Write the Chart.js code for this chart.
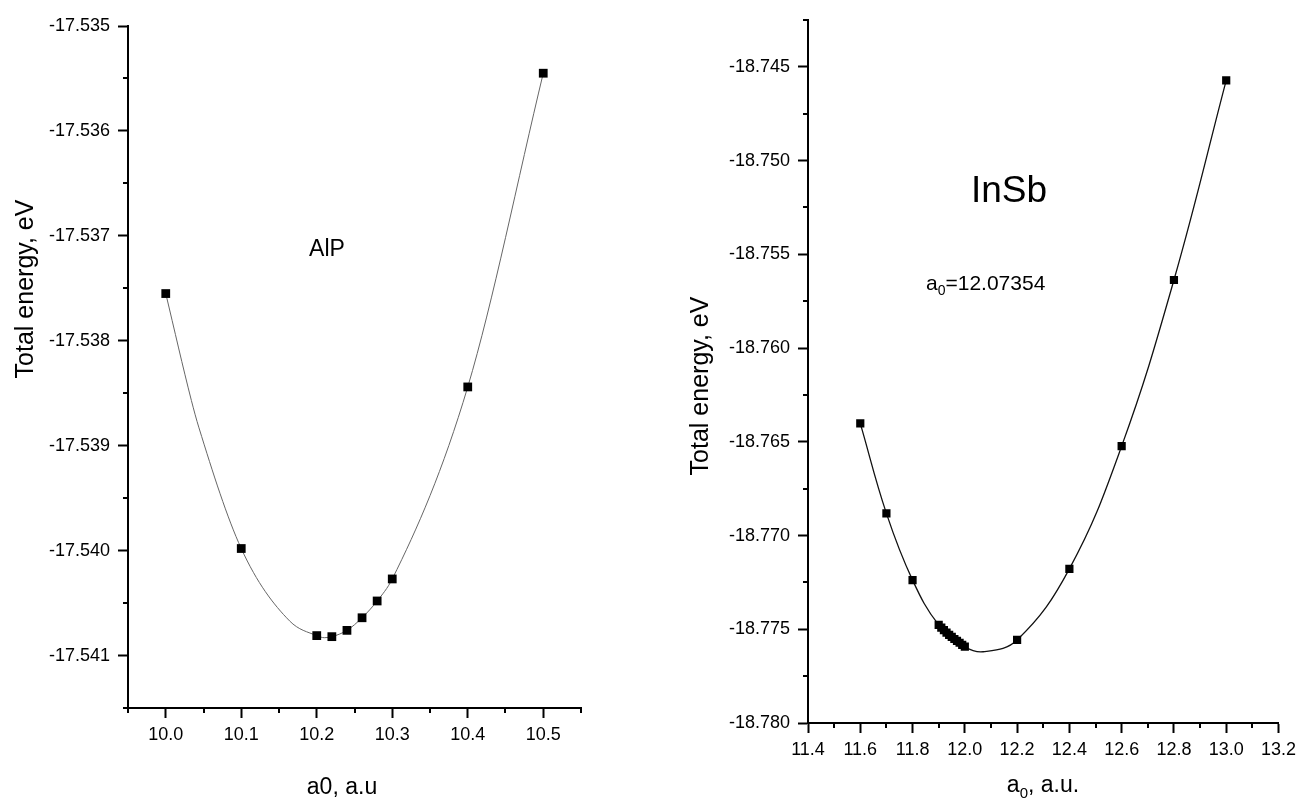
<!DOCTYPE html>
<html><head><meta charset="utf-8">
<script src="https://cdn.jsdelivr.net/npm/chart.js@4.4.1/dist/chart.umd.min.js"></script>
<style>
html,body{margin:0;padding:0;background:#fff;width:1302px;height:799px;overflow:hidden}
canvas{position:absolute;top:0}
#c1{left:0}
#c2{left:650px}
</style></head><body>
<canvas id="c1" width="650" height="799"></canvas>
<canvas id="c2" width="652" height="799"></canvas>
<script>
// ---- AlP data ----
const alpA0 = [10.0, 10.1, 10.2, 10.22, 10.24, 10.26, 10.28, 10.3, 10.4, 10.5];
const alpE  = [-17.53755, -17.53998, -17.54081, -17.54082, -17.54076, -17.54064, -17.54048, -17.54027, -17.53844, -17.53545];
// fitted curve
const alpFitA0 = [10.0, 10.034, 10.044, 10.1, 10.164, 10.2, 10.21, 10.22, 10.24, 10.26, 10.28, 10.3, 10.4, 10.5];
const alpFitE  = [-17.53755, -17.53857, -17.53883, -17.53998, -17.54067, -17.54081, -17.54083, -17.54082, -17.54076, -17.54064, -17.54048, -17.54027, -17.53844, -17.53545];
const alpXTicks = [10.0, 10.1, 10.2, 10.3, 10.4, 10.5];
const alpYTicks = [-17.541, -17.540, -17.539, -17.538, -17.537, -17.536, -17.535];

// ---- InSb data ----
const insbA0 = [11.6, 11.7, 11.8, 11.90, 11.91, 11.92, 11.93, 11.94, 11.95, 11.96, 11.97, 11.98, 11.99, 12.0, 12.2, 12.4, 12.6, 12.8, 13.0];
const insbE  = [-18.76402, -18.76882, -18.77238, -18.77477, -18.77491, -18.77505, -18.77518, -18.77530, -18.77541, -18.77552, -18.77562, -18.77572, -18.77583, -18.77593, -18.77557, -18.77178, -18.76523, -18.75637, -18.74572];
// fitted curve
const insbFitA0 = [11.6, 11.7, 11.8, 11.9, 12.0, 12.07, 12.2, 12.4, 12.6, 12.8, 13.0];
const insbFitE  = [-18.76402, -18.76882, -18.77238, -18.77477, -18.77593, -18.77620, -18.77557, -18.77178, -18.76523, -18.75637, -18.74572];
const insbXTicks = [11.4, 11.6, 11.8, 12.0, 12.2, 12.4, 12.6, 12.8, 13.0, 13.2];
const insbYTicks = [-18.780, -18.775, -18.770, -18.765, -18.760, -18.755, -18.750, -18.745];

const FAM = "'Liberation Sans', Arial, sans-serif";
const pts = (xs, ys) => xs.map((x, i) => ({x, y: ys[i]}));

// minor ticks plugin
const minorTicks = {
  id: 'minorTicks',
  afterDraw(chart, args, opts) {
    const ctx = chart.ctx;
    ctx.save();
    ctx.strokeStyle = '#000';
    ctx.lineWidth = 2;
    const xs = chart.scales.x, ys = chart.scales.y;
    const len = opts.len || 5;
    (opts.x || []).forEach(v => {
      const px = Math.round(xs.getPixelForValue(v));
      ctx.beginPath(); ctx.moveTo(px, xs.top); ctx.lineTo(px, xs.top + len); ctx.stroke();
    });
    (opts.y || []).forEach(v => {
      const py = Math.round(ys.getPixelForValue(v));
      ctx.beginPath(); ctx.moveTo(ys.right, py); ctx.lineTo(ys.right - len, py); ctx.stroke();
    });
    ctx.restore();
  }
};

// rich text plugin (supports subscript segments)
const texts = {
  id: 'texts',
  afterDraw(chart, args, opts) {
    const ctx = chart.ctx;
    (opts.items || []).forEach(it => {
      ctx.save();
      ctx.fillStyle = '#000';
      ctx.textBaseline = 'middle';
      ctx.translate(it.x, it.y);
      if (it.rotate) ctx.rotate(it.rotate);
      let total = 0;
      it.segs.forEach(s => {
        ctx.font = (s.sub ? Math.round(it.size * 0.65) : it.size) + 'px ' + FAM;
        s.w = ctx.measureText(s.t).width;
        total += s.w;
      });
      let cx = it.align === 'left' ? 0 : -total / 2;
      ctx.textAlign = 'left';
      it.segs.forEach(s => {
        ctx.font = (s.sub ? Math.round(it.size * 0.65) : it.size) + 'px ' + FAM;
        ctx.fillText(s.t, cx, s.sub ? it.size * 0.35 : 0);
        cx += s.w;
      });
      ctx.restore();
    });
  }
};

function range(a, b, step) { const r = []; for (let v = a; v <= b + step / 10; v += step) r.push(+v.toFixed(6)); return r; }

function axisCommon(tickVals, dec, fit, pad) {
  return {
    type: 'linear',
    afterBuildTicks: s => { s.ticks = tickVals.map(v => ({value: v})); },
    afterFit: fit,
    ticks: { callback: v => Number(v).toFixed(dec), color: '#000', font: {family: FAM, size: 18}, padding: pad, autoSkip: false, maxRotation: 0 },
    grid: { drawOnChartArea: false, drawTicks: true, tickLength: 10, tickWidth: 2, tickColor: '#000' },
    border: { display: true, color: '#000', width: 2 }
  };
}

new Chart(document.getElementById('c1'), {
  type: 'scatter',
  data: { datasets: [{
    data: pts(alpA0, alpE),
    showLine: false,
    pointStyle: 'rect', pointRadius: 6.2, pointBackgroundColor: '#000', pointBorderColor: '#000', pointBorderWidth: 0
  }, {
    data: pts(alpFitA0, alpFitE),
    showLine: true, cubicInterpolationMode: 'monotone', pointRadius: 0,
    borderColor: '#666', borderWidth: 1
  }]},
  options: {
    responsive: false, animation: false,
    layout: { padding: { left: 0, top: 26, right: 69, bottom: 0 } },
    plugins: {
      legend: {display: false}, tooltip: {enabled: false},
      minorTicks: { x: range(9.95, 10.55, 0.1), y: range(-17.5415, -17.5355, 0.001) },
      texts: { items: [
        { x: 26, y: 289, rotate: -Math.PI / 2, size: 25, segs: [{t: 'Total energy, eV'}] },
        { x: 342, y: 788, size: 23, segs: [{t: 'a0, a.u'}] },
        { x: 327, y: 250, size: 23, segs: [{t: 'AlP'}] }
      ]}
    },
    scales: {
      x: Object.assign(axisCommon(alpXTicks, 1, s => { s.height = 91; }, 6), { min: 9.95, max: 10.55 }),
      y: Object.assign(axisCommon(alpYTicks, 3, s => { s.width = 128; }, 8), { min: -17.5415, max: -17.535 })
    }
  },
  plugins: [minorTicks, texts]
});

new Chart(document.getElementById('c2'), {
  type: 'scatter',
  data: { datasets: [{
    data: pts(insbA0, insbE),
    showLine: false,
    pointStyle: 'rect', pointRadius: 5.8, pointBackgroundColor: '#000', pointBorderColor: '#000', pointBorderWidth: 0
  }, {
    data: pts(insbFitA0, insbFitE),
    showLine: true, tension: 0.4, pointRadius: 0,
    borderColor: '#111', borderWidth: 1.3
  }]},
  options: {
    responsive: false, animation: false,
    layout: { padding: { left: 0, top: 20, right: 20.4, bottom: 0 } },
    plugins: {
      legend: {display: false}, tooltip: {enabled: false},
      minorTicks: { x: range(11.5, 13.1, 0.2), y: range(-18.7775, -18.7425, 0.005) },
      texts: { items: [
        { x: 51, y: 386, rotate: -Math.PI / 2, size: 25, segs: [{t: 'Total energy, eV'}] },
        { x: 393, y: 786, size: 23, segs: [{t: 'a'}, {t: '0', sub: true}, {t: ', a.u.'}] },
        { x: 359, y: 192, size: 37, segs: [{t: 'InSb'}] },
        { x: 276, y: 284, size: 21, align: 'left', segs: [{t: 'a'}, {t: '0', sub: true}, {t: '=12.07354'}] }
      ]}
    },
    scales: {
      x: Object.assign(axisCommon(insbXTicks, 1, s => { s.height = 76; }, 6), { min: 11.4, max: 13.2 }),
      y: Object.assign(axisCommon(insbYTicks, 3, s => { s.width = 158; }, 8), { min: -18.780, max: -18.7425 })
    }
  },
  plugins: [minorTicks, texts]
});
</script>
</body></html>
